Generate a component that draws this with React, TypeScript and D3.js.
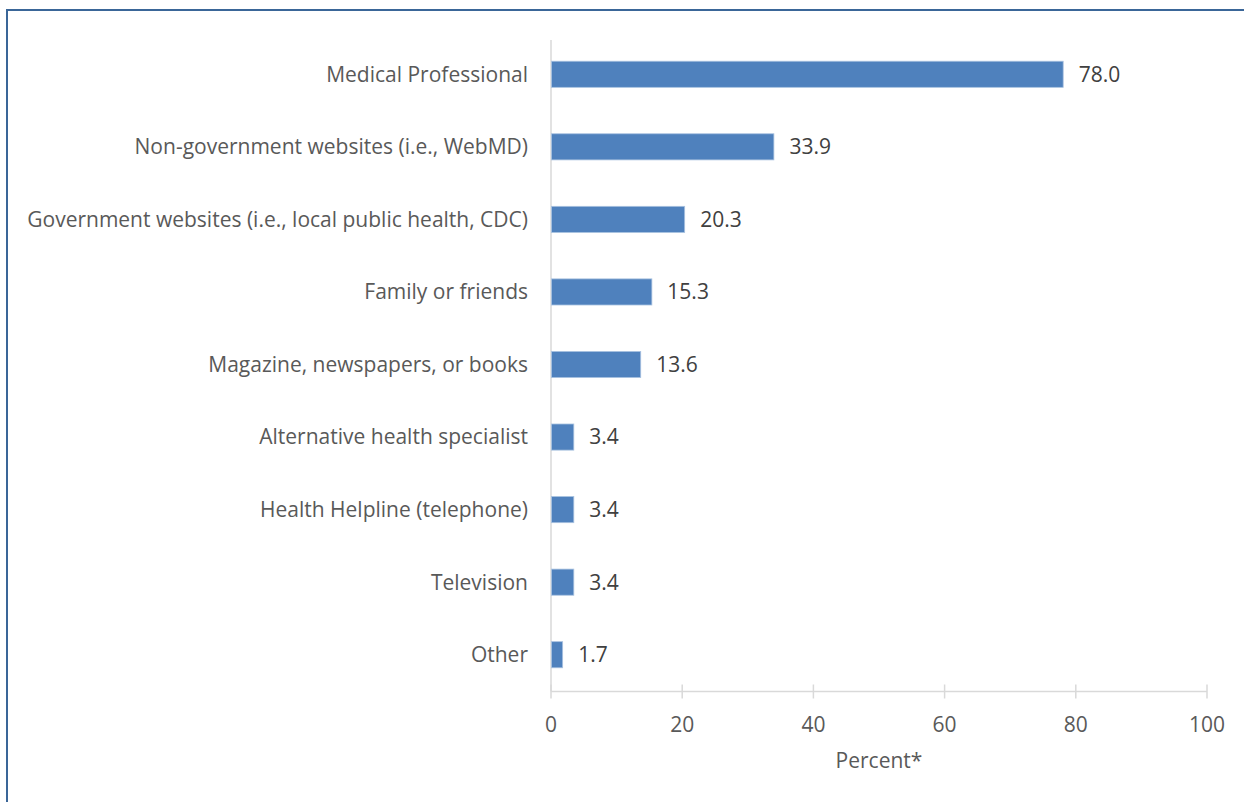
import React, { useEffect, useRef } from 'react';
import * as d3 from 'd3';

const categories = [
  'Medical Professional',
  'Non-government websites (i.e., WebMD)',
  'Government websites (i.e., local public health, CDC)',
  'Family or friends',
  'Magazine, newspapers, or books',
  'Alternative health specialist',
  'Health Helpline (telephone)',
  'Television',
  'Other',
];
const percents = [78.0, 33.9, 20.3, 15.3, 13.6, 3.4, 3.4, 3.4, 1.7];
const xTicks = [0, 20, 40, 60, 80, 100];
const xTitle = 'Percent*';

const W = 1244;
const H = 802;
const FONT = '"Open Sans", "Noto Sans", sans-serif';

const App: React.FC = () => {
  const svgRef = useRef<SVGSVGElement>(null);

  useEffect(() => {
    if (!svgRef.current) return;
    const svg = d3.select(svgRef.current);
    svg.selectAll('*').remove();

    // frame around the figure
    svg.append('rect')
      .attr('x', 7)
      .attr('y', 10)
      .attr('width', W + 20)
      .attr('height', H + 20)
      .attr('fill', 'none')
      .attr('stroke', '#3a6698')
      .attr('stroke-width', 2);

    const x = d3.scaleLinear().domain([0, 100]).range([551, 1207]);
    const y = d3.scaleBand<string>()
      .domain(categories)
      .range([38, 691])
      .paddingInner(0.64)
      .paddingOuter(0.32);

    const axisY = 691.5;

    // vertical category axis line
    svg.append('line')
      .attr('x1', x(0)).attr('x2', x(0))
      .attr('y1', 40).attr('y2', axisY)
      .attr('stroke', '#d9d9d9')
      .attr('stroke-width', 1.5);

    // bottom value axis
    svg.append('line')
      .attr('x1', x(0)).attr('x2', x(100))
      .attr('y1', axisY).attr('y2', axisY)
      .attr('stroke', '#d9d9d9')
      .attr('stroke-width', 1.5);

    svg.append('g')
      .selectAll('line')
      .data(xTicks)
      .enter()
      .append('line')
      .attr('x1', d => x(d)).attr('x2', d => x(d))
      .attr('y1', axisY - 7).attr('y2', axisY + 7)
      .attr('stroke', '#d9d9d9')
      .attr('stroke-width', 1.5);

    svg.append('g')
      .selectAll('text')
      .data(xTicks)
      .enter()
      .append('text')
      .attr('x', d => x(d))
      .attr('y', 732)
      .attr('text-anchor', 'middle')
      .attr('fill', '#595959')
      .attr('font-family', FONT)
      .attr('font-size', 21)
      .text(d => d);

    svg.append('text')
      .attr('x', (x(0) + x(100)) / 2)
      .attr('y', 768)
      .attr('text-anchor', 'middle')
      .attr('fill', '#595959')
      .attr('font-family', FONT)
      .attr('font-size', 21)
      .text(xTitle);

    // bars
    svg.append('g')
      .selectAll('rect')
      .data(percents)
      .enter()
      .append('rect')
      .attr('x', x(0) + 0.5)
      .attr('y', (d, i) => y(categories[i])!)
      .attr('width', d => x(d) - x(0))
      .attr('height', y.bandwidth())
      .attr('fill', '#4f81bd')
      .attr('stroke', '#a9c2e0')
      .attr('stroke-width', 0.8);

    // value labels
    svg.append('g')
      .selectAll('text')
      .data(percents)
      .enter()
      .append('text')
      .attr('x', d => x(d) + 16)
      .attr('y', (d, i) => y(categories[i])! + y.bandwidth() / 2)
      .attr('dy', '0.35em')
      .attr('fill', '#404040')
      .attr('font-family', FONT)
      .attr('font-size', 21)
      .text(d => d.toFixed(1));

    // category labels
    svg.append('g')
      .selectAll('text')
      .data(categories)
      .enter()
      .append('text')
      .attr('x', 528)
      .attr('y', d => y(d)! + y.bandwidth() / 2)
      .attr('dy', '0.35em')
      .attr('text-anchor', 'end')
      .attr('fill', '#595959')
      .attr('font-family', FONT)
      .attr('font-size', 21)
      .text(d => d);
  }, []);

  return (
    <svg
      ref={svgRef}
      width={W}
      height={H}
      style={{ position: 'absolute', left: 0, top: 0, background: '#ffffff' }}
    />
  );
};

export default App;
